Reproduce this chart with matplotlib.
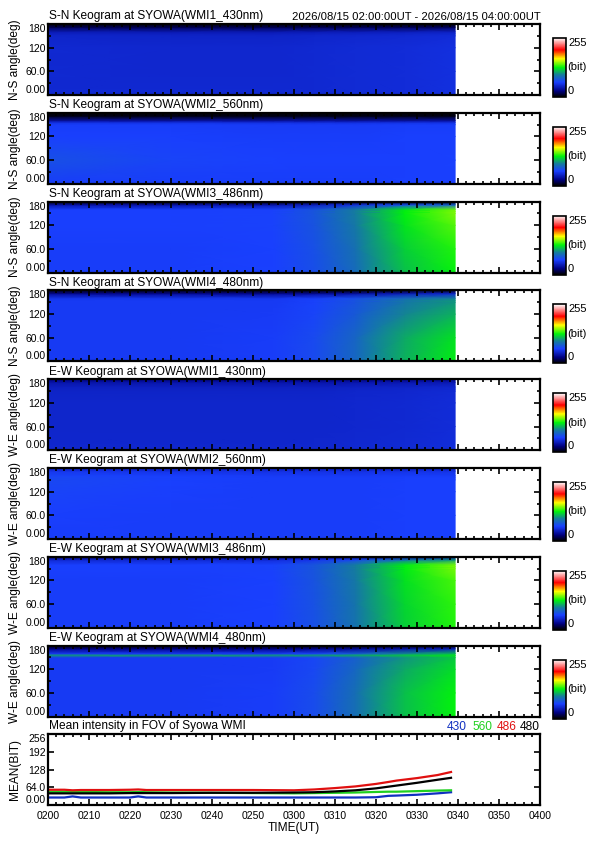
import numpy as np
import matplotlib
matplotlib.use('Agg')
import matplotlib.pyplot as plt
from matplotlib.colors import LinearSegmentedColormap, Normalize
from matplotlib.cm import ScalarMappable
from matplotlib.ticker import MultipleLocator, FixedLocator

plt.rcParams['font.family'] = ['Liberation Sans', 'DejaVu Sans']

# keogram sample grid: minutes after 02:00 UT, angle (deg)
kt = [0, 30, 55, 65, 75, 87, 99.3]
kang = [0, 60, 120, 150, 155, 160, 172, 180]

# intensity (bit), rows = kang, cols = kt
sn430 = [[50, 50, 50, 50, 51, 52, 54],
         [50, 49, 49, 50, 51, 52, 54],
         [50, 49, 49, 50, 51, 52, 54],
         [48, 47, 47, 48, 49, 50, 52],
         [46, 45, 45, 46, 47, 48, 50],
         [42, 41, 41, 42, 43, 44, 46],
         [16, 16, 16, 16, 17, 17, 18],
         [3, 3, 3, 3, 3, 3, 3]]
sn560 = [[62, 62, 62, 62, 62, 63, 63],
         [72, 66, 64, 63, 63, 63, 64],
         [64, 63, 62, 62, 62, 63, 63],
         [62, 62, 61, 61, 61, 62, 62],
         [56, 56, 55, 55, 55, 56, 56],
         [36, 36, 36, 36, 36, 36, 36],
         [4, 4, 4, 4, 4, 4, 4],
         [2, 2, 2, 2, 2, 2, 2]]
sn486 = [[62, 62, 64, 71, 86, 114, 128],
         [62, 62, 64, 72, 89, 118, 132],
         [63, 63, 65, 74, 93, 124, 140],
         [63, 63, 65, 75, 95, 127, 146],
         [63, 63, 65, 75, 95, 127, 146],
         [63, 63, 65, 74, 94, 125, 144],
         [36, 36, 38, 44, 54, 70, 80],
         [3, 3, 3, 3, 3, 3, 3]]
sn480 = [[60, 60, 62, 69, 84, 110, 126],
         [60, 60, 62, 69, 83, 108, 123],
         [60, 60, 61, 66, 77, 98, 110],
         [60, 60, 60, 65, 74, 92, 103],
         [60, 60, 60, 65, 74, 92, 103],
         [58, 58, 58, 62, 71, 86, 97],
         [30, 30, 30, 32, 36, 43, 50],
         [3, 3, 3, 3, 3, 3, 3]]
ew430 = [[49, 49, 49, 49, 50, 51, 53],
         [48, 48, 48, 48, 49, 50, 52],
         [48, 48, 48, 48, 49, 50, 52],
         [47, 47, 47, 47, 48, 49, 51],
         [46, 46, 46, 46, 47, 48, 50],
         [45, 45, 45, 45, 46, 47, 49],
         [38, 38, 38, 38, 39, 40, 41],
         [26, 26, 26, 26, 27, 27, 28]]
ew560 = [[62, 62, 62, 62, 62, 63, 63],
         [63, 62, 62, 62, 62, 63, 63],
         [66, 63, 62, 62, 62, 63, 63],
         [68, 64, 62, 62, 62, 63, 63],
         [68, 64, 62, 62, 62, 63, 63],
         [66, 63, 61, 61, 61, 62, 62],
         [58, 56, 55, 55, 55, 56, 56],
         [40, 40, 40, 40, 40, 40, 40]]
ew486 = [[62, 62, 64, 72, 90, 118, 132],
         [62, 62, 64, 73, 91, 120, 134],
         [62, 62, 64, 74, 93, 123, 138],
         [63, 63, 65, 75, 95, 126, 145],
         [63, 63, 65, 75, 95, 126, 145],
         [63, 63, 65, 75, 95, 126, 145],
         [50, 50, 52, 58, 70, 92, 104],
         [20, 20, 20, 22, 25, 29, 32]]
ew480 = [[60, 60, 62, 70, 88, 114, 128],
         [60, 60, 62, 70, 88, 114, 128],
         [60, 60, 61, 68, 84, 108, 122],
         [60, 60, 61, 67, 80, 102, 116],
         [104, 104, 104, 104, 108, 116, 124],
         [60, 60, 60, 66, 78, 98, 112],
         [26, 26, 26, 28, 32, 38, 44],
         [3, 3, 3, 3, 3, 3, 3]]

keograms = [sn430, sn560, sn486, sn480, ew430, ew560, ew486, ew480]
titles = ['S-N Keogram at SYOWA(WMI1_430nm)', 'S-N Keogram at SYOWA(WMI2_560nm)',
          'S-N Keogram at SYOWA(WMI3_486nm)', 'S-N Keogram at SYOWA(WMI4_480nm)',
          'E-W Keogram at SYOWA(WMI1_430nm)', 'E-W Keogram at SYOWA(WMI2_560nm)',
          'E-W Keogram at SYOWA(WMI3_486nm)', 'E-W Keogram at SYOWA(WMI4_480nm)']
ylabels = ['N-S angle(deg)'] * 4 + ['W-E angle(deg)'] * 4

# mean intensity in FOV
mt = [0, 4, 6, 8, 15, 20, 22, 24, 30, 40, 50, 60, 65, 70, 75, 80, 83, 85, 90, 95, 98.3]
m486 = [55, 55, 53, 54, 54, 55, 56, 54, 54, 54, 54, 53, 56, 61, 67, 76, 83, 88, 97, 108, 119]
m480 = [42, 42, 42, 42, 42, 43, 43, 43, 43, 44, 44, 45, 46, 49, 53, 60, 66, 70, 80, 91, 98]
m560 = [48, 48, 48, 47, 46, 46, 47, 46, 45, 44, 43, 42, 43, 44, 45, 47, 48, 48, 50, 52, 53]
m430 = [27, 27, 31, 27, 27, 27, 31, 27, 27, 27, 27, 27, 27, 27, 27, 28, 33, 34, 37, 42, 46]

xticks = list(range(0, 121, 10))
xlabels = ['%02d%02d' % (2 + m // 60, m % 60) for m in xticks]

cmap = LinearSegmentedColormap.from_list('idl', [
    (0.00, (0, 0, 0)), (0.10, (0, 0, 0.5)), (0.25, (0.1, 0.25, 1.0)),
    (0.38, (0.08, 0.5, 0.6)), (0.50, (0, 0.95, 0.05)), (0.65, (1, 1, 0)),
    (0.80, (1, 0, 0)), (0.90, (1, 0.5, 0.5)), (1.00, (1, 1, 1))])
norm = Normalize(0, 255)

W, H = 595, 842
fig = plt.figure(figsize=(W / 100, H / 100), dpi=100)


def rect(top, h=71):
    return [48 / W, 1 - (top + h) / H, 492 / W, h / H]


def style(ax):
    for s in ax.spines.values():
        s.set_linewidth(1.6)
    ax.set_xlim(0, 120)
    ax.xaxis.set_major_locator(FixedLocator(xticks))
    ax.xaxis.set_minor_locator(MultipleLocator(2))
    ax.tick_params(which='both', direction='in', top=True, right=True, width=1.2,
                   labelsize=7.5, pad=1.5)
    ax.tick_params(which='major', length=4)
    ax.tick_params(which='minor', length=2.5)


for i, data in enumerate(keograms):
    top = 24 + 88.8 * i
    ax = fig.add_axes(rect(top))
    ax.pcolormesh(kt, kang, np.array(data), cmap=cmap, norm=norm, shading='gouraud')
    style(ax)
    ax.set_ylim(0, 180)
    ax.set_yticks([0, 60, 120, 180])
    ax.set_yticklabels(['0.00', '60.0', '120', '180'])
    ax.yaxis.set_minor_locator(FixedLocator([30, 90, 150]))
    ax.set_xticklabels([])
    labs = ax.get_yticklabels()
    labs[0].set_va('bottom')
    labs[-1].set_va('top')
    fig.text(49 / W, 1 - (top - 1.5) / H, titles[i], fontsize=8.6, ha='left', va='bottom')
    fig.text(15 / W, 1 - (top + 35.5) / H, ylabels[i], fontsize=8.6, rotation=90,
             ha='center', va='center')
    cax = fig.add_axes([553 / W, 1 - (top + 73) / H, 13 / W, 59 / H])
    cb = fig.colorbar(ScalarMappable(norm=norm, cmap=cmap), cax=cax)
    cb.set_ticks([])
    cb.outline.set_linewidth(1.2)
    fig.text(568 / W, 1 - (top + 14) / H, '255', fontsize=8, va='top')
    fig.text(567 / W, 1 - (top + 43.5) / H, '(bit)', fontsize=8, va='center')
    fig.text(568 / W, 1 - (top + 72) / H, '0', fontsize=8, va='bottom')

fig.text(541 / W, 1 - 22.5 / H, '2026/08/15 02:00:00UT - 2026/08/15 04:00:00UT',
         fontsize=8.1, ha='right', va='bottom')

# mean intensity panel
top = 734
ax = fig.add_axes(rect(top))
ax.plot(mt, m430, color='#1030c0', lw=1.6)
ax.plot(mt, m560, color='#20d020', lw=1.6)
ax.plot(mt, m486, color='#e01010', lw=1.6)
ax.plot(mt, m480, color='black', lw=1.6)
style(ax)
ax.tick_params(axis='x', pad=4)
ax.set_ylim(0, 256)
ax.set_yticks([0, 64, 128, 192, 256])
ax.set_yticklabels(['0.00', '64.0', '128', '192', '256'])
ax.set_xticklabels(xlabels)
labs = ax.get_yticklabels()
labs[0].set_va('bottom')
labs[-1].set_va('top')
ax.set_xlabel('TIME(UT)', fontsize=8.6, labelpad=1)
fig.text(49 / W, 1 - (top - 1.5) / H, 'Mean intensity in FOV of Syowa WMI', fontsize=8.6,
         ha='left', va='bottom')
fig.text(15 / W, 1 - (top + 35.5) / H, 'MEAN(BIT)', fontsize=8.6, rotation=90,
         ha='center', va='center')
for x, s, c in [(457, '430', '#1030c0'), (482, '560', '#20d020'),
                (507, '486', '#e01010'), (530, '480', 'black')]:
    fig.text(x / W, 1 - (top - 1.5) / H, s, color=c, fontsize=8.6, ha='center', va='bottom')

fig.savefig('out.png', dpi=100)
